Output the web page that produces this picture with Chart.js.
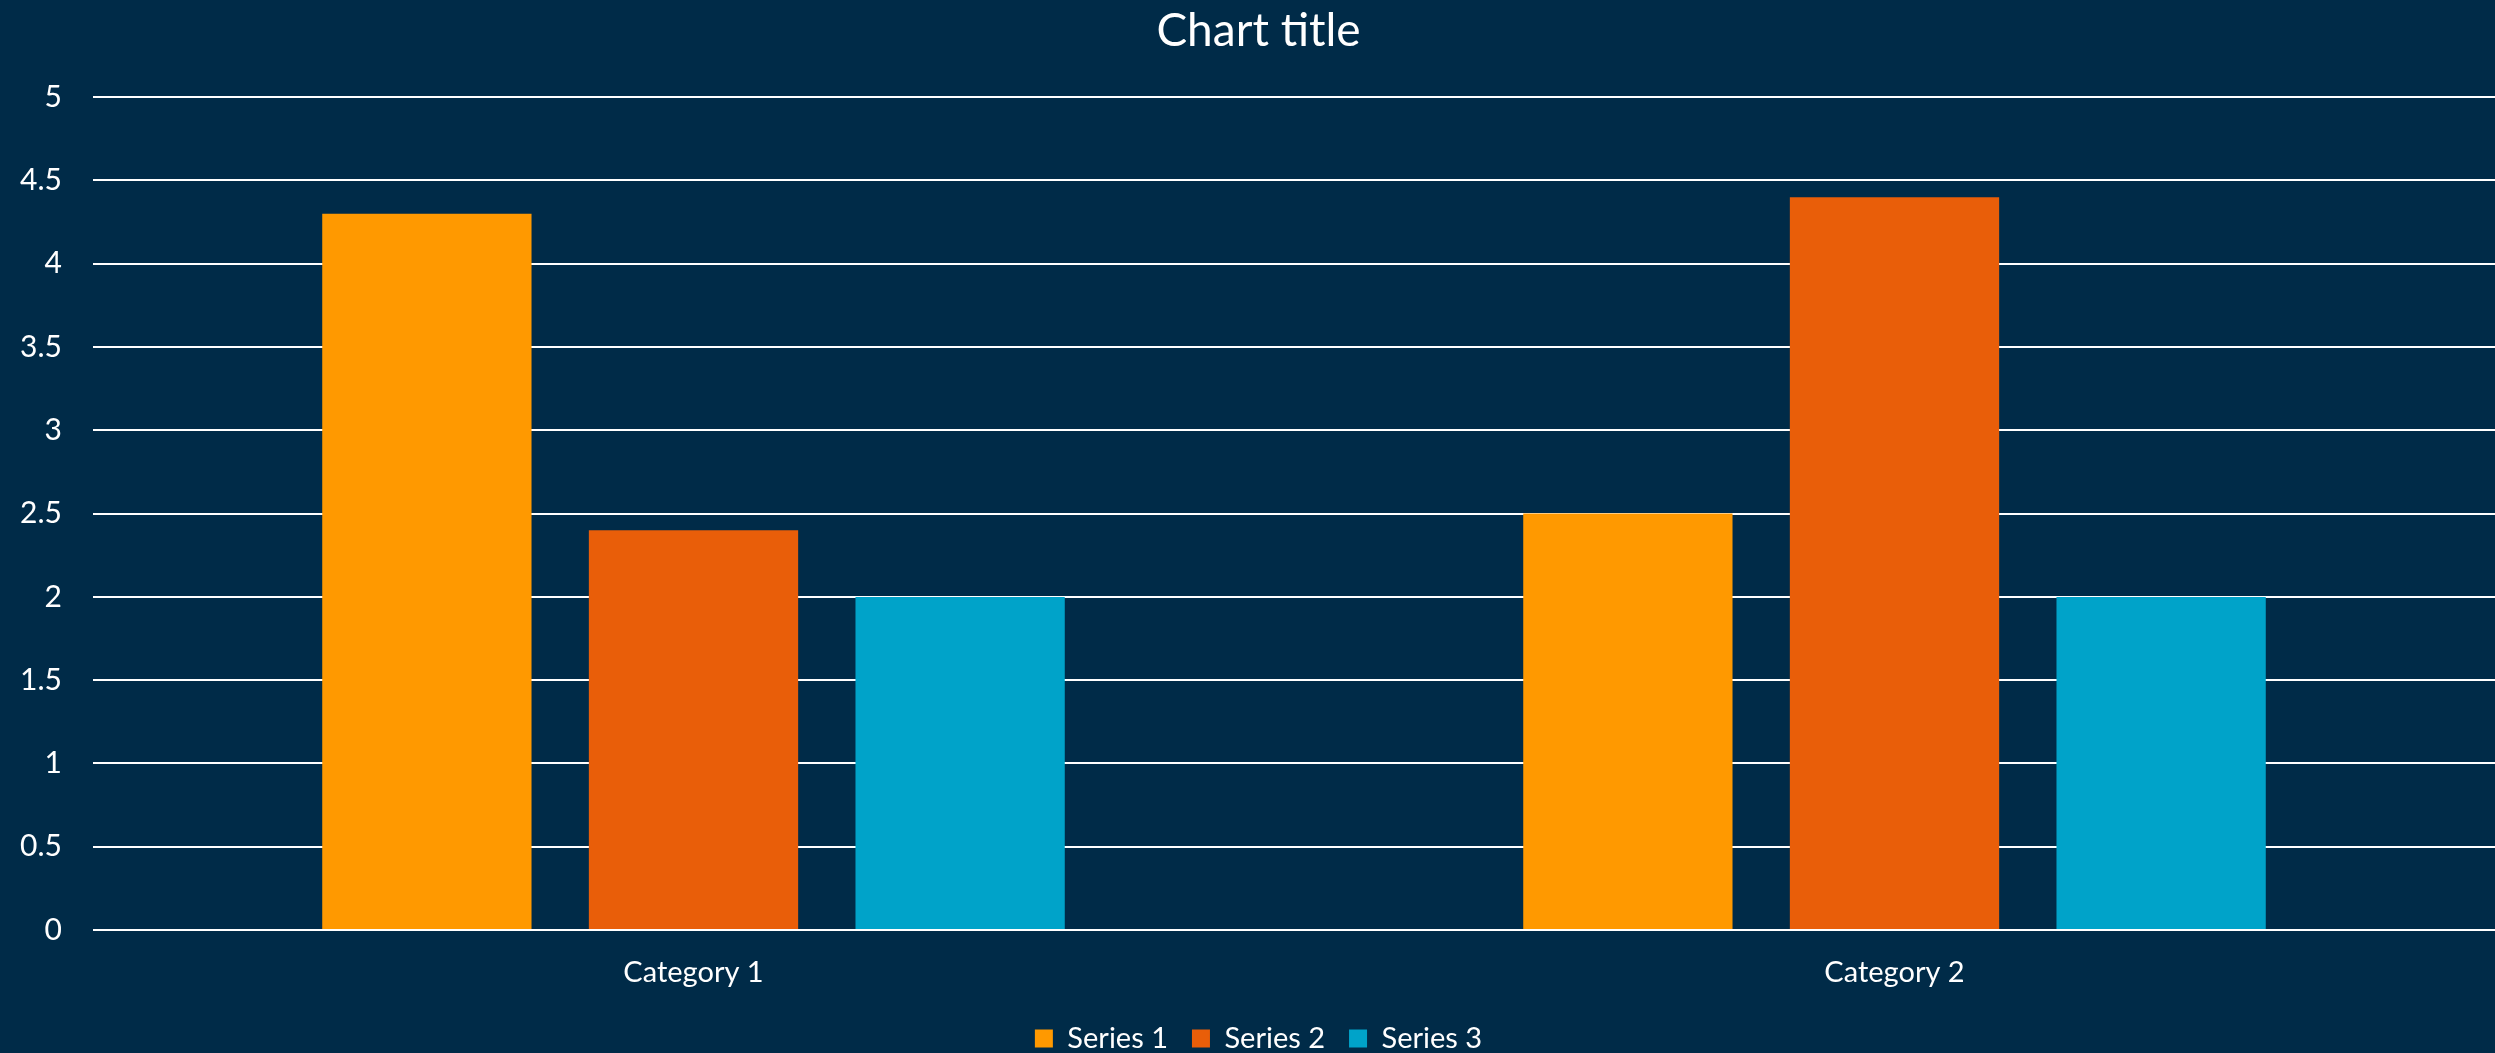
<!DOCTYPE html>
<html>
<head>
<meta charset="utf-8">
<title>Chart title</title>
<script src="https://cdn.jsdelivr.net/npm/chart.js@4"></script>
<style>
  html, body { margin: 0; padding: 0; background: #002b48; overflow: hidden; }
  canvas { display: block; }
</style>
</head>
<body>
<canvas id="barChart" width="2495" height="1053"></canvas>
<script>
const categories = ["Category 1", "Category 2"];
const seriesNames = ["Series 1", "Series 2", "Series 3"];
const series1 = [4.3, 2.5];
const series2 = [2.4, 4.4];
const series3 = [2, 2];
const seriesColors = ["#ff9900", "#e95e09", "#00a3c9"];

const BG = "#002b48";
const FONT = "Lato, 'Liberation Sans', sans-serif";

// paint the dark background under everything
const background = {
  id: "background",
  beforeDraw(chart) {
    const c = chart.ctx;
    c.save();
    c.fillStyle = BG;
    c.fillRect(0, 0, chart.width, chart.height);
    c.restore();
  }
};

const ctx = document.getElementById("barChart");

new Chart(ctx, {
  type: "bar",
  data: {
    labels: categories,
    datasets: [series1, series2, series3].map((values, i) => ({
      label: seriesNames[i],
      data: values,
      backgroundColor: seriesColors[i],
      borderWidth: 0,
      categoryPercentage: 0.666,
      barPercentage: 0.785
    }))
  },
  options: {
    responsive: false,
    animation: false,
    layout: {
      // plot area runs a little past the right edge
      padding: { left: 14, right: -8, top: 0, bottom: -10 }
    },
    scales: {
      x: {
        offset: true,
        grid: { display: false },
        border: { display: false },
        ticks: {
          color: "#ffffff",
          padding: 17,
          font: { family: FONT, size: 29 }
        },
        afterFit(scale) { scale.height = 70; }
      },
      y: {
        min: 0,
        max: 5,
        grid: { color: "#ffffff", lineWidth: 2, drawTicks: false },
        border: { display: false },
        ticks: {
          stepSize: 0.5,
          color: "#ffffff",
          padding: 31,
          font: { family: FONT, size: 30 },
          callback: v => String(v)
        },
        afterFit(scale) { scale.width = 79; }
      }
    },
    plugins: {
      title: {
        display: true,
        text: "Chart title",
        color: "#ffffff",
        font: { family: FONT, size: 46, weight: "normal" },
        padding: { top: 4, bottom: 38 }
      },
      legend: {
        position: "bottom",
        labels: {
          color: "#ffffff",
          boxWidth: 18,
          boxHeight: 18,
          padding: 24,
          font: { family: FONT, size: 29 }
        }
      },
      tooltip: { enabled: false }
    }
  },
  plugins: [background]
});
</script>
</body>
</html>
